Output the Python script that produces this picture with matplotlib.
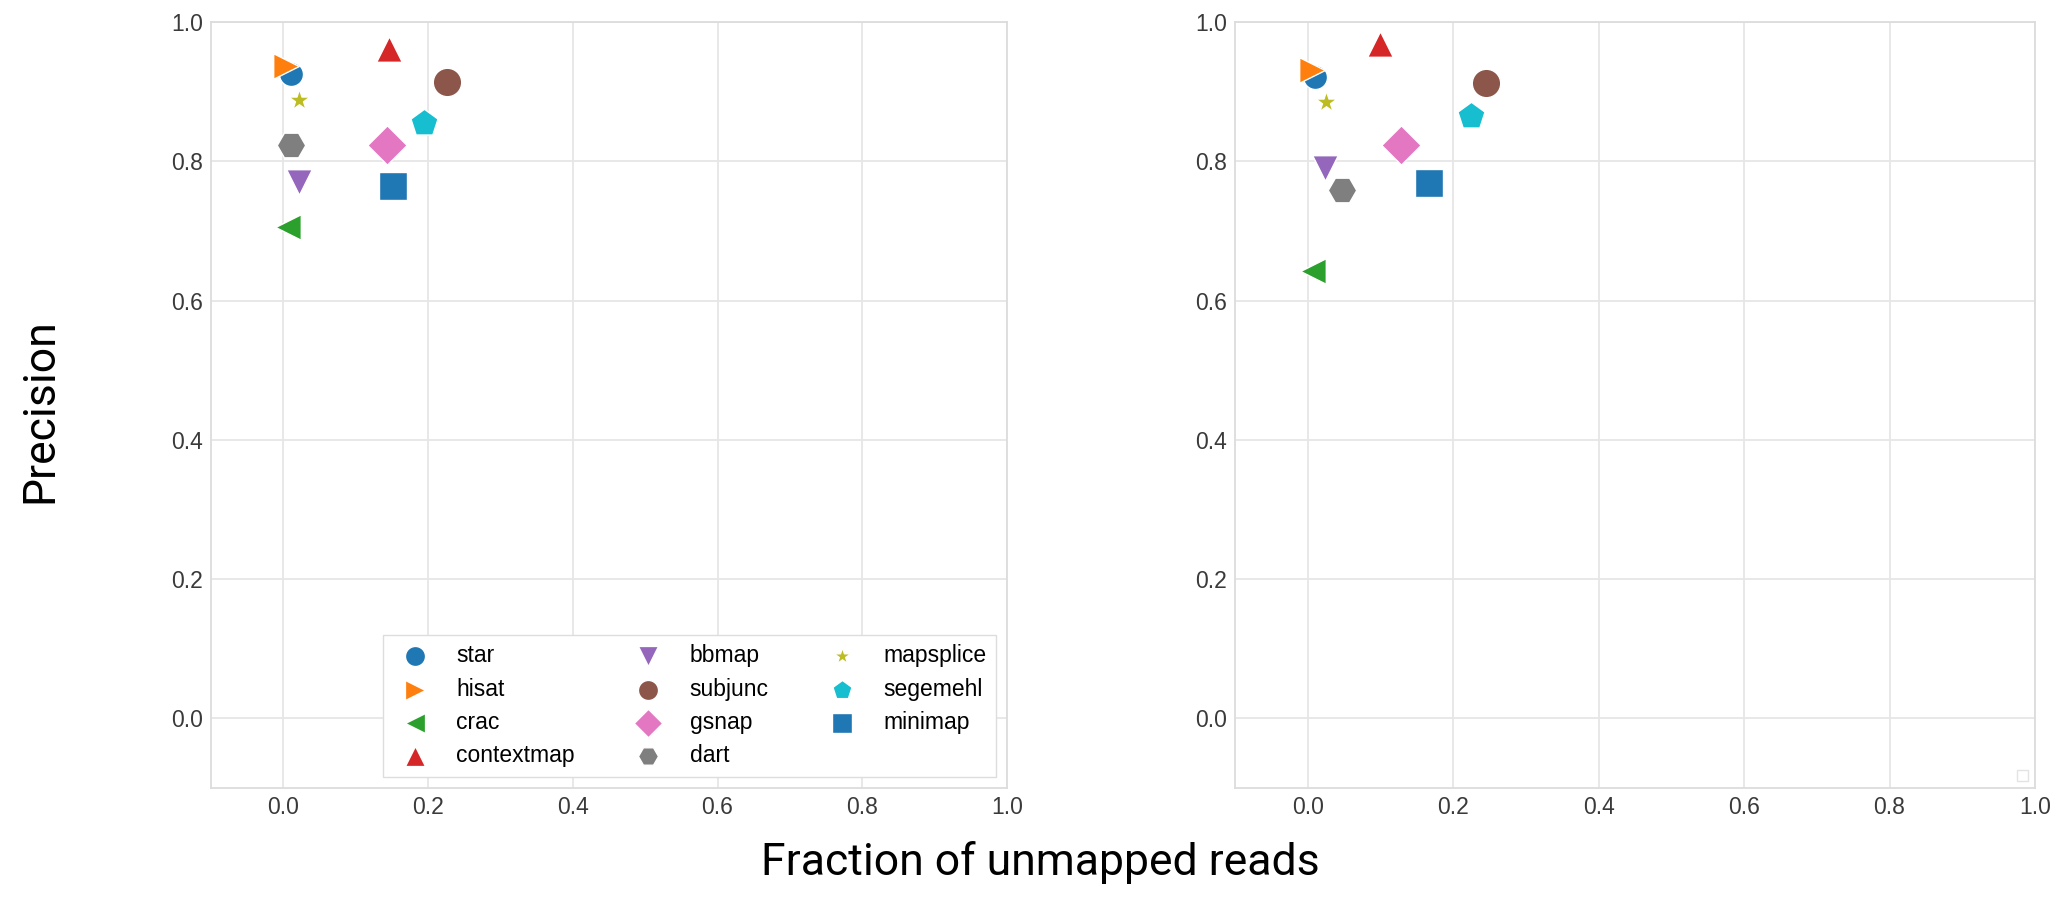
import numpy as np
import matplotlib.pyplot as plt

# mappers, in legend order
tools = ['star', 'hisat', 'crac', 'contextmap', 'bbmap', 'subjunc',
         'gsnap', 'dart', 'mapsplice', 'segemehl', 'minimap']

# left panel
unmapped_a = [0.010, 0.004, 0.007, 0.146, 0.022, 0.226, 0.143, 0.011, 0.022, 0.195, 0.152]
precision_a = [0.925, 0.937, 0.706, 0.961, 0.770, 0.914, 0.823, 0.823, 0.888, 0.855, 0.764]

# right panel
unmapped_b = [0.010, 0.006, 0.007, 0.100, 0.024, 0.245, 0.128, 0.047, 0.025, 0.224, 0.167]
precision_b = [0.921, 0.931, 0.642, 0.968, 0.790, 0.912, 0.823, 0.759, 0.885, 0.865, 0.769]

ticks = [0.0, 0.2, 0.4, 0.6, 0.8, 1.0]

# marker style per tool
markers = ['o', '>', '<', '^', 'v', 'o', 'D', 'H', '*', 'p', 's']
sizes = [300, 340, 340, 340, 340, 420, 400, 420, 260, 420, 420]
colors = ['C%d' % (i % 10) for i in range(len(tools))]

plt.rcParams['font.family'] = ['Liberation Sans', 'DejaVu Sans']

fig = plt.figure(figsize=(20.65, 9.06), dpi=100)
ax1 = fig.add_axes([211 / 2065, 1 - 788 / 906, 796 / 2065, 766 / 906])
ax2 = fig.add_axes([1235 / 2065, 1 - 788 / 906, 800 / 2065, 766 / 906])

for ax, xs, ys in [(ax1, unmapped_a, precision_a), (ax2, unmapped_b, precision_b)]:
    ax.set_axisbelow(True)
    ax.grid(True, color='#e6e6e6', linewidth=1.3)
    for sp in ax.spines.values():
        sp.set_color('#dcdcdc')
        sp.set_linewidth(1.3)
    for name, x, y, m, sz, c in zip(tools, xs, ys, markers, sizes, colors):
        ax.scatter(x, y, marker=m, s=sz, color=c, edgecolors='white', linewidths=1.0, label=name)
    ax.set_xlim(-0.1, 1.0)
    ax.set_ylim(-0.1, 1.0)
    ax.set_xticks(ticks)
    ax.set_yticks(ticks)
    ax.tick_params(length=0, pad=5.5, labelsize=16.5, labelcolor='#3a3a3a')

leg = ax1.legend(loc='lower right', ncol=3, fontsize=16.5,
                 fancybox=False, edgecolor='#dddddd', framealpha=1,
                 labelspacing=0.45, columnspacing=2.2, handletextpad=0.8)
# same marker size for every legend entry
for h, m in zip(leg.legend_handles, markers):
    h.set_sizes([160 if m == '*' else 210])
ax2.legend(handles=[], loc='lower right', fancybox=False, edgecolor='#dddddd')

label_font = ['Roboto', 'DejaVu Sans']
fig.text(1040 / 2065, 1 - 862 / 906, 'Fraction of unmapped reads', ha='center', va='center',
         fontsize=32, family=label_font)
fig.text(40 / 2065, 1 - 411 / 906, 'Precision', ha='center', va='center', rotation=90,
         fontsize=32, family=label_font)

fig.savefig('out.png', dpi=100)
